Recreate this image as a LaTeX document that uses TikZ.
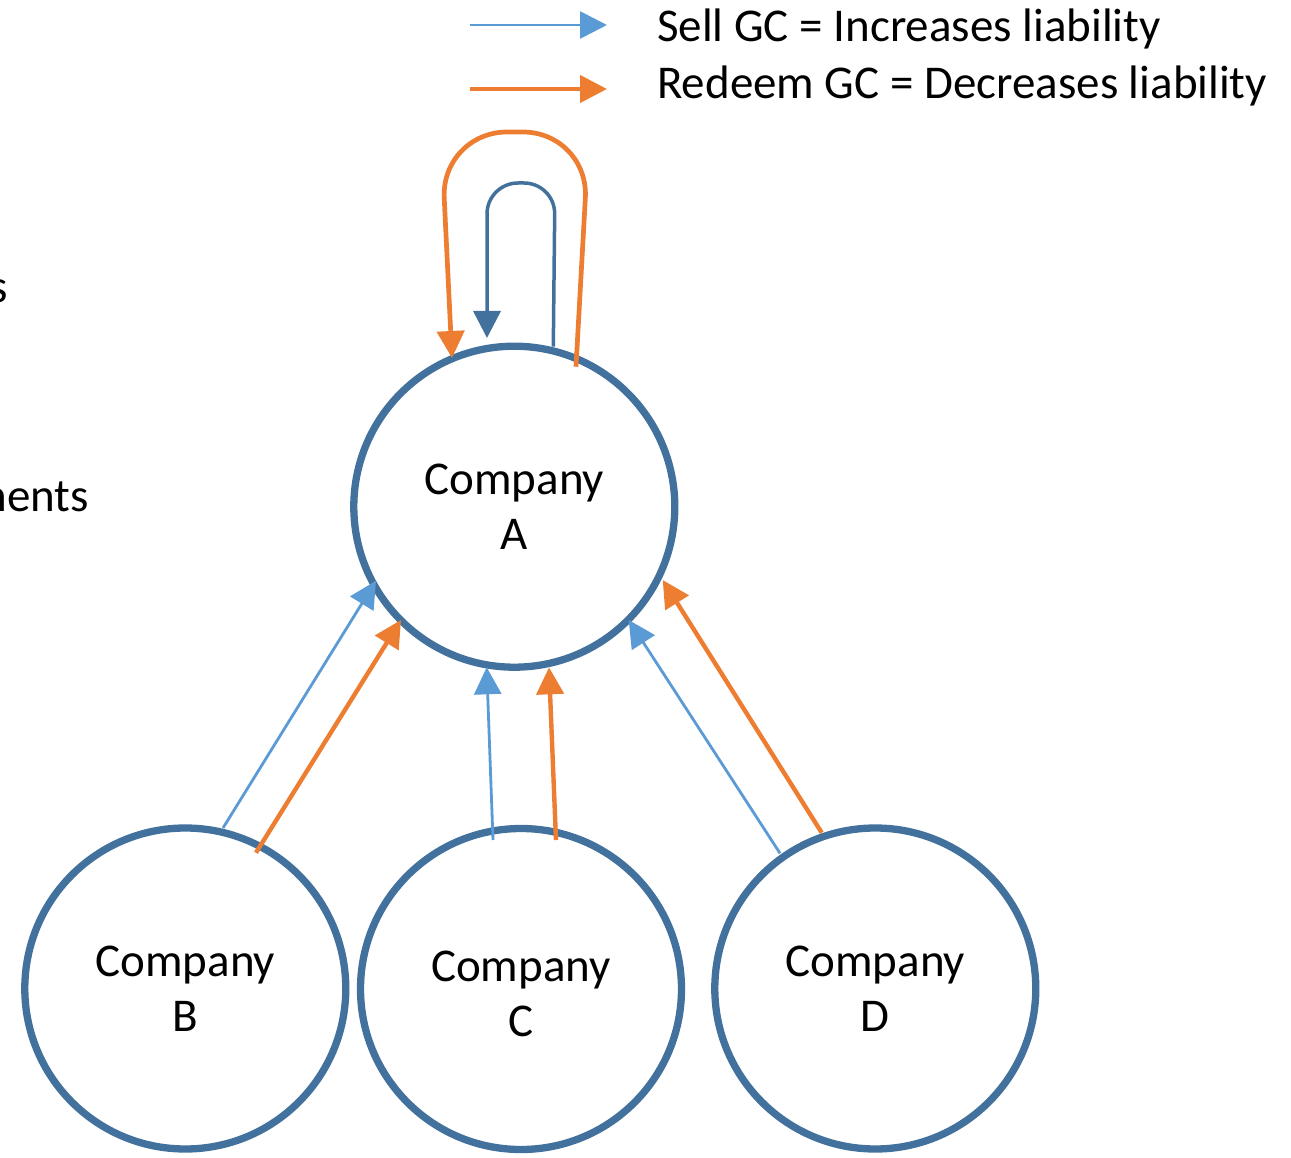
\documentclass[tikz,border=0pt]{standalone}
\usepackage{fontspec}
\setmainfont{Carlito}
\usetikzlibrary{arrows.meta,calc}
\definecolor{circblue}{HTML}{41719C}
\definecolor{sellblue}{HTML}{5B9BD5}
\definecolor{redorange}{HTML}{ED7D31}
\tikzset{
  company/.style={circle, draw=circblue, line width=7.3pt, fill=white, minimum size=321pt, inner sep=0pt, align=center},
  nodetext/.style={align=center, inner sep=0pt},
  tip/.style={-{Triangle[length=27pt,width=27pt]}},
  sellarrow/.style={tip, draw=sellblue, line width=2.8pt, color=sellblue},
  redeemarrow/.style={tip, draw=redorange, line width=4.4pt, color=redorange},
  sellloop/.style={tip, draw=circblue, line width=3.5pt, color=circblue, rounded corners=31pt},
  redeemloop/.style={tip, draw=redorange, line width=4.7pt, color=redorange, rounded corners=66pt},
  legendtext/.style={anchor=base west, inner sep=0pt},
  cuttext/.style={anchor=base east, inner sep=0pt}
}
\begin{document}
\begin{tikzpicture}[x=1pt, y=-1pt, font=\fontsize{47}{55}\selectfont]
\useasboundingbox (0,0) rectangle (1291,1158);

% cut-off texts at the left edge
\node[cuttext] (s1) at (8,303) {s};
\node[cuttext] (s2) at (89,511) {nents};

% legend
\coordinate (l1s) at (470,25);
\coordinate (l1e) at (607,25);
\coordinate (l2s) at (470,89);
\coordinate (l2e) at (607,89);
\draw[sellarrow] (l1s) -- (l1e);
\draw[redeemarrow] (l2s) -- (l2e);
\node[legendtext] (t1) at (657,42) {Sell GC = Increases liability};
\node[legendtext] (t2) at (657,99) {Redeem GC = Decreases liability};

% companies
\node[company] (A) at (514.3,506.7) {Company\\A};
\node[company] (B) at (185.3,988.5) {Company\\B};
\node[company] (C) at (521,989) {};
\node[nodetext] (Ct) at ($(C.center)+(0,5)$) {Company\\C};
\node[company] (D) at (875.3,988.5) {Company\\D};

% self loops on A
\draw[redeemloop] ($(A.center)+(61.7,-140)$) -- (589,132) -- (441,132) -- ($(A.center)+(-62.3,-148.7)$);
\draw[sellloop] ($(A.center)+(39,-160)$) -- (555,183) -- (487,183) -- ($(A.center)+(-27.3,-168.7)$);

% B -> A
\draw[sellarrow] ($(B.center)+(37.7,-160.5)$) -- ($(A.center)+(-138.3,74)$);
\draw[redeemarrow] ($(B.center)+(70.7,-135.8)$) -- ($(A.center)+(-113.3,113.3)$);
% C -> A
\draw[sellarrow] ($(C.center)+(-28,-149)$) -- ($(A.center)+(-27.6,160.6)$);
\draw[redeemarrow] ($(C.center)+(35,-149)$) -- ($(A.center)+(34.7,160.6)$);
% D -> A
\draw[sellarrow] ($(D.center)+(-95.3,-135.2)$) -- ($(A.center)+(114.4,113.3)$);
\draw[redeemarrow] ($(D.center)+(-53.6,-155.8)$) -- ($(A.center)+(148.4,73.3)$);
\end{tikzpicture}
\end{document}
